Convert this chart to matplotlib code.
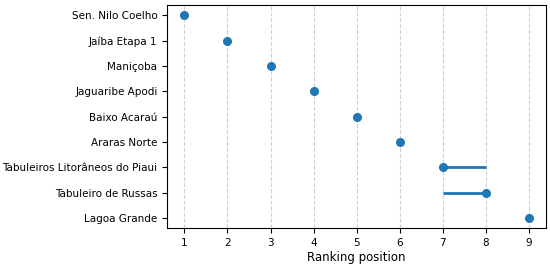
import matplotlib
matplotlib.use("Agg")
import matplotlib.pyplot as plt

names = ["Sen. Nilo Coelho", "Jaíba Etapa 1", "Maniçoba", "Jaguaribe Apodi",
         "Baixo Acaraú", "Araras Norte", "Tabuleiros Litorâneos do Piaui",
         "Tabuleiro de Russas", "Lagoa Grande"]
rank = [1, 2, 3, 4, 5, 6, 7, 8, 9]
rank_min = [1, 2, 3, 4, 5, 6, 7, 7, 9]
rank_max = [1, 2, 3, 4, 5, 6, 8, 8, 9]

fig, ax = plt.subplots(figsize=(5.5, 2.67), dpi=100)
ypos = list(range(len(names)))
color = "#1f77b4"
ax.hlines(ypos, rank_min, rank_max, color=color, linewidth=2, zorder=2)
ax.plot(rank, ypos, "o", color=color, markersize=5.5, zorder=3)
ax.set_yticks(ypos)
ax.set_yticklabels(names)
ax.invert_yaxis()
ax.set_xticks(range(1, 10))
ax.grid(axis="x", linestyle="--", color="#d0d0d0", linewidth=0.8)
ax.set_axisbelow(True)
ax.tick_params(labelsize=7.5)
ax.set_xlabel("Ranking position", fontsize=8.5, labelpad=2)
fig.subplots_adjust(left=0.304, right=0.993, top=0.981, bottom=0.146)
fig.savefig("out.png", dpi=100)
